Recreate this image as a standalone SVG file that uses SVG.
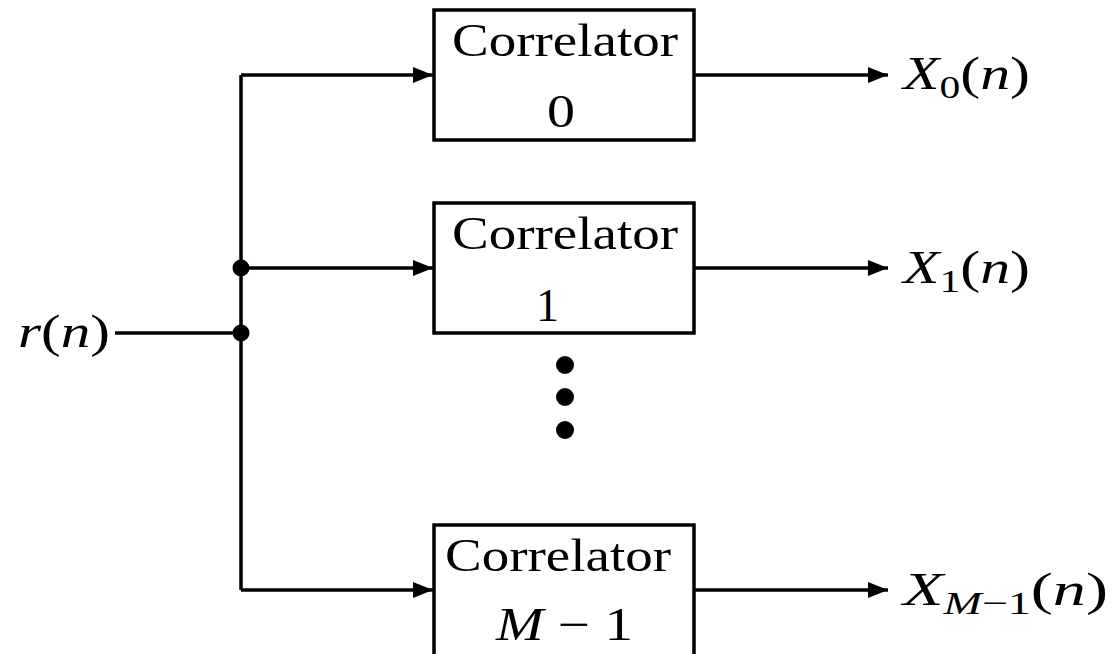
<svg xmlns="http://www.w3.org/2000/svg" width="1112" height="654" viewBox="0 0 1112 654">
<defs>
<marker id="arr" markerWidth="20" markerHeight="16" refX="20" refY="8" orient="auto" markerUnits="userSpaceOnUse">
<path d="M0,0 L20,8 L0,16 Z" fill="#000"/>
</marker>
<style>
.box{fill:#fff;stroke:#000;stroke-width:3.5}
.ln{fill:none;stroke:#000;stroke-width:3.5}
.t{font-family:"Liberation Serif","DejaVu Serif",serif;font-size:46px;fill:#000}
.m{font-family:"Liberation Serif","DejaVu Serif",serif;font-size:46px;font-style:italic;fill:#000}
.s{font-size:32px}
</style>
</defs>
<rect width="1112" height="654" fill="#fff"/>
<g id="connectors">
<path class="ln" d="M115,333 H241"/>
<path class="ln" d="M241,75 V590"/>
<path class="ln" d="M241,75 H433" marker-end="url(#arr)"/>
<path class="ln" d="M241,268 H433" marker-end="url(#arr)"/>
<path class="ln" d="M241,590 H433" marker-end="url(#arr)"/>
<path class="ln" d="M695,75 H888" marker-end="url(#arr)"/>
<path class="ln" d="M695,268 H888" marker-end="url(#arr)"/>
<path class="ln" d="M695,590 H888" marker-end="url(#arr)"/>
<circle cx="241" cy="268" r="8.5"/>
<circle cx="241" cy="333" r="8.5"/>
</g>
<g id="input">
<text class="m" x="18" y="347" textLength="92" lengthAdjust="spacingAndGlyphs">r<tspan font-style="normal">(</tspan>n<tspan font-style="normal">)</tspan></text>
</g>
<g id="corr0">
<rect class="box" x="434" y="10" width="260" height="130"/>
<text class="t" x="452" y="56" textLength="226" lengthAdjust="spacingAndGlyphs">Correlator</text>
<text class="t" x="547" y="127" textLength="28" lengthAdjust="spacingAndGlyphs">0</text>
</g>
<g id="corr1">
<rect class="box" x="434" y="203" width="260" height="130"/>
<text class="t" x="452" y="249" textLength="226" lengthAdjust="spacingAndGlyphs">Correlator</text>
<text class="t" x="536" y="321">1</text>
</g>
<g id="ellipsis">
<circle cx="565" cy="365" r="9"/>
<circle cx="565" cy="397" r="9"/>
<circle cx="565" cy="430" r="9"/>
</g>
<g id="corrM">
<rect class="box" x="434" y="525" width="260" height="140"/>
<text class="t" x="445" y="571" textLength="226" lengthAdjust="spacingAndGlyphs">Correlator</text>
<text class="m" x="496" y="640" textLength="137" lengthAdjust="spacingAndGlyphs">M<tspan font-style="normal"> − 1</tspan></text>
</g>
<g id="outputs">
<text class="m" x="903" y="89" textLength="127" lengthAdjust="spacingAndGlyphs">X<tspan class="s" font-style="normal" dy="9">0</tspan><tspan font-style="normal" dy="-9">(</tspan>n<tspan font-style="normal">)</tspan></text>
<text class="m" x="903" y="283" textLength="127" lengthAdjust="spacingAndGlyphs">X<tspan class="s" font-style="normal" dy="9">1</tspan><tspan font-style="normal" dy="-9">(</tspan>n<tspan font-style="normal">)</tspan></text>
<text class="m" x="903" y="605" textLength="205" lengthAdjust="spacingAndGlyphs">X<tspan class="s" dy="9">M</tspan><tspan class="s" font-style="normal">−1</tspan><tspan font-style="normal" dy="-9">(</tspan>n<tspan font-style="normal">)</tspan></text>
</g>
</svg>
